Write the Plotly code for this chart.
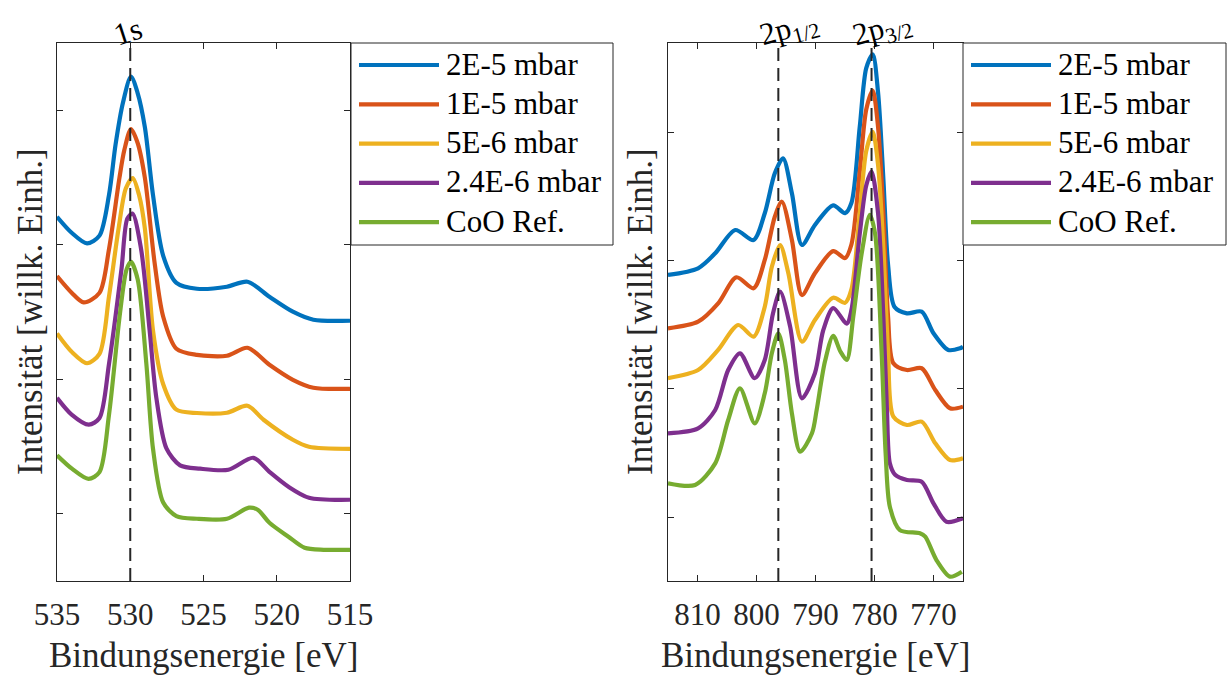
import plotly.graph_objects as go

# ---------------- data ----------------
series_names = ["2E-5 mbar", "1E-5 mbar", "5E-6 mbar", "2.4E-6 mbar", "CoO Ref."]
series_colors = ["#0072BD", "#D95319", "#EDB120", "#7E2F8E", "#77AC30"]

# O 1s panel: binding energy [eV] and intensity [arb. units, stacked]
o1s_e_2e5 = [535, 534, 532.95, 532.1, 531.45, 531.0, 530.5, 529.95, 529.5, 529.0, 528.45,
             527.75, 526.85, 525.45, 523.4, 522.0, 520.5, 518.9, 517.5, 515]
o1s_i_2e5 = [2.208, 2.089, 2.010, 2.068, 2.370, 2.747, 3.056, 3.250, 3.130, 2.873, 2.372,
             1.918, 1.717, 1.673, 1.688, 1.725, 1.613, 1.502, 1.442, 1.435]

o1s_e_1e5 = [535, 534, 533.18, 532.1, 531.45, 530.74, 530.4, 529.95, 529.5, 529.0, 528.34,
             527.75, 526.85, 525.45, 523.4, 522.0, 520.5, 518.9, 517.5, 515]
o1s_i_1e5 = [1.767, 1.643, 1.571, 1.642, 1.968, 2.496, 2.706, 2.860, 2.758, 2.496, 1.868,
             1.465, 1.227, 1.181, 1.175, 1.234, 1.108, 0.996, 0.937, 0.929]

o1s_e_5e6 = [535, 534, 532.95, 532.1, 531.45, 530.8, 530.3, 529.83, 529.4, 529.0, 528.45,
             527.75, 526.85, 525.45, 523.4, 522.0, 520.9, 518.9, 517.8, 515]
o1s_i_5e6 = [1.340, 1.204, 1.119, 1.189, 1.616, 2.119, 2.420, 2.496, 2.370, 2.119, 1.365,
             0.963, 0.774, 0.749, 0.751, 0.803, 0.699, 0.550, 0.498, 0.483]

o1s_e_24e6 = [535, 534, 532.83, 532.1, 531.45, 530.6, 530.2, 529.85, 529.26, 528.68, 528.22,
              527.53, 526.6, 525.23, 523.3, 521.6, 520.5, 519.2, 517.8, 515]
o1s_i_24e6 = [0.862, 0.737, 0.662, 0.712, 1.114, 1.817, 2.194, 2.232, 1.968, 1.365, 0.862,
              0.486, 0.360, 0.335, 0.327, 0.416, 0.312, 0.201, 0.119, 0.104]

o1s_e_ref = [535, 533.98, 532.85, 532.1, 531.45, 530.7, 530.25, 529.95, 529.49, 528.9, 528.45,
             527.75, 526.85, 525.45, 523.4, 521.9, 521.3, 520.5, 519.2, 518.1, 516.8, 515]
o1s_i_ref = [0.435, 0.335, 0.259, 0.309, 0.737, 1.491, 1.817, 1.873, 1.742, 1.114, 0.486,
             0.083, -0.017, -0.037, -0.037, 0.045, 0.030, -0.067, -0.171, -0.253, -0.268, -0.268]

# Co 2p panel
co2p_e_2e5 = [815, 809.9, 807.0, 803.6, 800.5, 798.6, 796.9, 795.5, 794.0, 792.3, 790.1, 787.0,
              785.0, 783.9, 782.5, 781.4, 780.3, 779.4, 778.5, 777.7, 776.6, 774.5, 772.0, 770.0,
              767.5, 765.5, 765]
co2p_i_2e5 = [1.891, 1.943, 2.060, 2.242, 2.164, 2.373, 2.685, 2.802, 2.529, 2.125, 2.281, 2.434,
              2.374, 2.455, 3.048, 3.507, 3.615, 3.318, 2.644, 1.970, 1.640, 1.591, 1.604, 1.435,
              1.305, 1.318, 1.330]

co2p_e_1e5 = [815, 809.9, 806.5, 803.4, 800.5, 798.6, 796.9, 795.7, 794.0, 792.3, 790.1, 787.0,
              785.0, 783.9, 782.5, 781.4, 780.3, 779.4, 778.5, 777.7, 776.8, 774.5, 772.0, 769.7,
              767.2, 765]
co2p_i_1e5 = [1.474, 1.526, 1.669, 1.873, 1.787, 2.008, 2.346, 2.463, 2.164, 1.734, 1.904, 2.077,
              2.023, 2.131, 2.698, 3.184, 3.332, 3.048, 2.374, 1.565, 1.201, 1.148, 1.162, 0.992,
              0.849, 0.862]

co2p_e_5e6 = [815, 809.9, 806.5, 803.1, 800.5, 798.6, 797.4, 796.0, 794.6, 792.3, 790.1, 787.0,
              785.0, 783.9, 782.5, 781.4, 780.3, 779.4, 778.5, 777.7, 776.8, 774.5, 772.0, 769.7,
              767.2, 765]
co2p_i_5e6 = [1.084, 1.148, 1.305, 1.500, 1.409, 1.643, 1.955, 2.125, 1.904, 1.370, 1.539, 1.713,
              1.673, 1.780, 2.374, 2.859, 3.008, 2.752, 2.105, 1.295, 0.784, 0.719, 0.745, 0.576,
              0.445, 0.459]

co2p_e_24e6 = [815, 809.9, 807.0, 804.8, 802.8, 800.3, 798.6, 797.2, 796.0, 794.3, 792.3, 790.1,
               788.7, 787.0, 784.7, 783.9, 782.5, 781.4, 780.5, 779.4, 778.5, 777.9, 777.4, 776.5,
               774.5, 772.0, 770.0, 767.8, 765]
co2p_i_24e6 = [0.654, 0.693, 0.836, 1.148, 1.279, 1.084, 1.227, 1.591, 1.760, 1.487, 0.927, 1.123,
               1.457, 1.632, 1.511, 1.619, 2.213, 2.590, 2.698, 2.374, 1.565, 0.850, 0.420, 0.330,
               0.289, 0.276, 0.107, -0.037, -0.010]

co2p_e_ref = [815, 810.4, 807.0, 804.8, 802.8, 800.3, 798.6, 797.4, 796.3, 795.2, 794.0, 792.6,
              790.6, 789.8, 788.4, 787.0, 785.8, 784.7, 783.6, 782.2, 780.8, 779.9, 778.8, 778.1,
              777.4, 775.7, 772.3, 771.4, 769.5, 767.2, 765.2]
co2p_i_ref = [0.263, 0.250, 0.419, 0.758, 1.005, 0.732, 0.966, 1.279, 1.435, 1.227, 0.810, 0.510,
              0.654, 0.837, 1.214, 1.416, 1.295, 1.227, 1.565, 2.051, 2.361, 2.213, 1.295, 0.486,
              0.081, -0.102, -0.127, -0.154, -0.336, -0.466, -0.427]

o1s_ticks = [535, 530, 525, 520, 515]
co2p_ticks = [810, 800, 790, 780, 770]
intensity_ticks = [0, 1, 2, 3]

o1s_lines = [530.0]
o1s_labels = ["1s"]
co2p_lines = [796.3, 780.5]
co2p_labels = ["2p<sub>1/2</sub>", "2p<sub>3/2</sub>"]

# ---------------- figure ----------------
W, H = 1228, 675
FONT = "Liberation Serif"
INK = "#262626"

o1s_e = [o1s_e_2e5, o1s_e_1e5, o1s_e_5e6, o1s_e_24e6, o1s_e_ref]
o1s_i = [o1s_i_2e5, o1s_i_1e5, o1s_i_5e6, o1s_i_24e6, o1s_i_ref]
co2p_e = [co2p_e_2e5, co2p_e_1e5, co2p_e_5e6, co2p_e_24e6, co2p_e_ref]
co2p_i = [co2p_i_2e5, co2p_i_1e5, co2p_i_5e6, co2p_i_24e6, co2p_i_ref]

LW = 4.2
fig = go.Figure()
for name, color, ex, iy in zip(series_names, series_colors, o1s_e, o1s_i):
    fig.add_trace(go.Scatter(x=ex, y=iy, mode="lines", name=name, showlegend=False,
                             line=dict(color=color, width=LW, shape="spline", smoothing=0.8),
                             xaxis="x", yaxis="y"))
for name, color, ex, iy in zip(series_names, series_colors, co2p_e, co2p_i):
    fig.add_trace(go.Scatter(x=ex, y=iy, mode="lines", name=name, showlegend=False,
                             line=dict(color=color, width=LW, shape="spline", smoothing=0.8),
                             xaxis="x2", yaxis="y2"))

dash = dict(color=INK, width=2, dash="13px,7px")
for e in o1s_lines:
    fig.add_shape(type="line", xref="x", yref="y domain", x0=e, x1=e, y0=0, y1=1, line=dash)
for e in co2p_lines:
    fig.add_shape(type="line", xref="x2", yref="y2 domain", x0=e, x1=e, y0=0, y1=1, line=dash)

lab_font = dict(family=FONT, size=31, color="black")
for e, t in zip(o1s_lines, o1s_labels):
    fig.add_annotation(x=e, xref="x", y=1 - 31 / H, yref="paper", text=t, showarrow=False,
                       textangle=-18, font=lab_font, xanchor="center", yanchor="middle", xshift=-2)
for e, t in zip(co2p_lines, co2p_labels):
    fig.add_annotation(x=e, xref="x2", y=1 - 30 / H, yref="paper", text=t, showarrow=False,
                       textangle=-15, font=lab_font, xanchor="center", yanchor="middle", xshift=11)

title_font = dict(family=FONT, size=35, color=INK)
for xr in ["x domain", "x2 domain"]:
    fig.add_annotation(x=0.5, xref=xr, y=1 - 655 / H, yref="paper", text="Bindungsenergie [eV]",
                       showarrow=False, font=title_font, xanchor="center", yanchor="middle")
for xp in [30, 640]:
    fig.add_annotation(x=xp / W, xref="paper", y=0.5, yref="y domain",
                       text="Intensität [willk. Einh.]", showarrow=False, textangle=-90,
                       font=title_font, xanchor="center", yanchor="middle")

# legends (one box per panel, drawn in paper coordinates)
leg_font = dict(family=FONT, size=31, color="black")
for (lx0, lx1) in [(351, 613), (963, 1226)]:
    fig.add_shape(type="rect", xref="paper", yref="paper", x0=lx0 / W, x1=lx1 / W,
                  y0=1 - 245 / H, y1=1 - 43 / H, line=dict(color=INK, width=1),
                  fillcolor="white", layer="above")
    for k, (name, color) in enumerate(zip(series_names, series_colors)):
        yrow = 65 + 39.3 * k
        fig.add_shape(type="line", xref="paper", yref="paper", x0=(lx0 + 8) / W,
                      x1=(lx0 + 88) / W, y0=1 - yrow / H, y1=1 - yrow / H,
                      line=dict(color=color, width=LW), layer="above")
        fig.add_annotation(x=(lx0 + 93) / W, xref="paper", y=1 - yrow / H, yref="paper",
                           text=name, showarrow=False, font=leg_font, xanchor="left",
                           yanchor="middle", yshift=1)

ydom = [1 - 581 / H, 1 - 43 / H]
axis_common = dict(showline=True, linecolor=INK, linewidth=1, mirror="ticks", ticks="inside",
                   ticklen=6, tickcolor=INK, showgrid=False, zeroline=False,
                   tickfont=dict(family=FONT, size=31, color=INK))
fig.update_layout(
    width=W, height=H, margin=dict(l=0, r=0, t=0, b=0, autoexpand=False),
    paper_bgcolor="white", plot_bgcolor="white", showlegend=False,
    xaxis=dict(domain=[57 / W, 350 / W], range=[535, 515], tickvals=o1s_ticks, anchor="y",
               ticklabelstandoff=6, **axis_common),
    yaxis=dict(domain=ydom, range=[-0.5, 3.5], tickvals=intensity_ticks, showticklabels=False,
               anchor="x", **axis_common),
    xaxis2=dict(domain=[668 / W, 963 / W], range=[815, 765], tickvals=co2p_ticks, anchor="y2",
                ticklabelstandoff=6, **axis_common),
    yaxis2=dict(domain=ydom, range=[-0.5, 3.703], tickvals=intensity_ticks, showticklabels=False,
                anchor="x2", **axis_common),
)

fig.write_html("out.html")
